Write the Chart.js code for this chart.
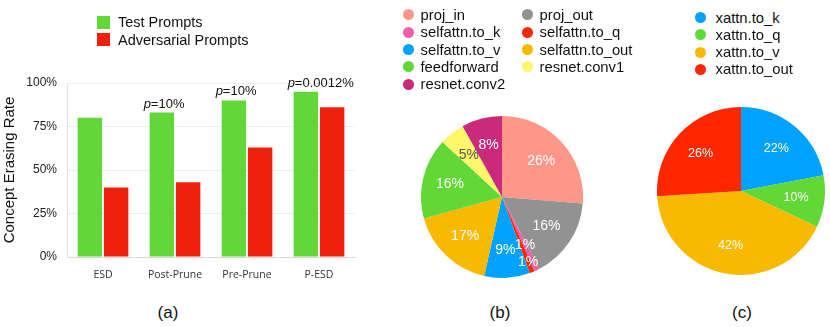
<!DOCTYPE html>
<html>
<head>
<meta charset="utf-8">
<script src="https://cdn.jsdelivr.net/npm/chart.js@4.4.1/dist/chart.umd.min.js"></script>
<style>
  body { margin: 0; background: #fff; font-family: "Liberation Sans", Arial, sans-serif; }
  #page { position: relative; width: 830px; height: 327px; overflow: hidden; }
  canvas { position: absolute; }
  .lg { position: absolute; display: flex; align-items: center; color: #111; white-space: nowrap; }
  .cap { position: absolute; font-size: 17px; color: #111; transform: translate(-50%, -50%); }
</style>
</head>
<body>
<div id="page">
  <canvas id="barChart" width="360" height="300" style="left:0;top:0"></canvas>
  <canvas id="pieB" width="162" height="162" style="left:421px;top:116px"></canvas>
  <canvas id="pieC" width="168" height="168" style="left:657px;top:107px"></canvas>
  <div class="cap" style="left:168px;top:313px">(a)</div>
  <div class="cap" style="left:500px;top:313px">(b)</div>
  <div class="cap" style="left:742px;top:313px">(c)</div>
</div>
<script>
// (a) bar chart data
var methods = ["ESD", "Post-Prune", "Pre-Prune", "P-ESD"];
var testPrompts = [80, 83, 90, 95];
var advPrompts = [40, 43, 63, 86];
var pLabels = ["", "=10%", "=10%", "=0.0012%"];
var yTicks = [0, 25, 50, 75, 100];

// (b) pie
var layersB = ["proj_in", "proj_out", "selfattn.to_k", "selfattn.to_q", "selfattn.to_v",
               "selfattn.to_out", "feedforward", "resnet.conv1", "resnet.conv2"];
var sharesB = [26, 16, 1, 1, 9, 17, 16, 5, 8];

// (c) pie
var layersC = ["xattn.to_k", "xattn.to_q", "xattn.to_v", "xattn.to_out"];
var sharesC = [22, 10, 42, 26];

var colorsB = ['#FF968A', '#929292', '#EF5FA7', '#FF2600', '#00A2FF', '#F8BA00', '#61D836', '#FFF76B', '#CB297B'];
var colorsC = ['#00A2FF', '#61D836', '#F8BA00', '#FF2600'];
var green = '#62D838', red = '#EE220C';

var page = document.getElementById("page");

function addLegend(labels, colors, opts) {
    labels.forEach(function (lab, i) {
        var col = Math.floor(i % opts.cols), row = Math.floor(i / opts.cols);
        var d = document.createElement("div");
        d.className = "lg";
        d.style.left = (opts.x + col * opts.colW) + "px";
        d.style.top = (opts.y + row * opts.rowH - opts.rowH / 2) + "px";
        d.style.height = opts.rowH + "px";
        d.style.fontSize = opts.font + "px";
        var m = document.createElement("span");
        m.style.display = "inline-block";
        m.style.width = opts.mark + "px";
        m.style.height = opts.mark + "px";
        m.style.background = colors[i];
        m.style.borderRadius = opts.round ? "50%" : "0";
        m.style.marginRight = opts.gap + "px";
        d.appendChild(m);
        d.appendChild(document.createTextNode(lab));
        page.appendChild(d);
    });
}

addLegend(["Test Prompts", "Adversarial Prompts"], [green, red],
    {x: 97, y: 22.5, cols: 1, colW: 0, rowH: 17.3, font: 14.5, mark: 13, gap: 8, round: false});
addLegend(layersB, colorsB,
    {x: 402.5, y: 15, cols: 2, colW: 119, rowH: 17.3, font: 14.8, mark: 11, gap: 7, round: true});
addLegend(layersC, colorsC,
    {x: 694.5, y: 17.7, cols: 1, colW: 0, rowH: 17.2, font: 14.8, mark: 11, gap: 10, round: true});

// p-value text above the green bars
var pValuePlugin = {
    id: 'pValues',
    afterDatasetsDraw: function (chart) {
        var ctx = chart.ctx;
        var meta = chart.getDatasetMeta(0);
        ctx.save();
        ctx.fillStyle = '#111';
        ctx.textBaseline = 'alphabetic';
        ctx.textAlign = 'left';
        meta.data.forEach(function (bar, i) {
            if (!pLabels[i]) return;
            var x = bar.x - bar.width / 2 - 6;
            var y = bar.y - 5;
            ctx.font = 'italic 13px "Liberation Sans"';
            ctx.fillText('p', x, y);
            var w = ctx.measureText('p').width;
            ctx.font = '13px "Liberation Sans"';
            ctx.fillText(pLabels[i], x + w, y);
        });
        ctx.restore();
    }
};

new Chart(document.getElementById("barChart"), {
    type: 'bar',
    data: {
        labels: methods,
        datasets: [
            {label: 'Test Prompts', data: testPrompts, backgroundColor: green},
            {label: 'Adversarial Prompts', data: advPrompts, backgroundColor: red}
        ]
    },
    options: {
        responsive: false,
        animation: false,
        categoryPercentage: 0.73,
        barPercentage: 0.93,
        layout: {padding: {top: 83, right: 5, left: 0, bottom: 19}},
        plugins: {legend: {display: false}, tooltip: {enabled: false}},
        scales: {
            x: {
                grid: {display: false},
                border: {color: '#d8d8d8'},
                ticks: {padding: 4, color: '#333', font: {family: '"Open Sans"', size: 10.5}},
                afterFit: function (s) { s.height = 24; }
            },
            y: {
                min: 0, max: 100,
                afterBuildTicks: function (s) { s.ticks = yTicks.map(function (v) { return {value: v}; }); },
                grid: {color: '#eeeeee', drawTicks: false},
                border: {color: '#e2e2e2'},
                ticks: {padding: 10, color: '#222', font: {family: '"Liberation Sans"', size: 12},
                    callback: function (v) { return v + '%'; }},
                title: {display: true, text: 'Concept Erasing Rate', color: '#111', padding: {top: 1, bottom: 0},
                    font: {family: '"Liberation Sans"', size: 15}},
                afterFit: function (s) { s.width = 67; }
            }
        }
    },
    plugins: [pValuePlugin]
});

// percent labels inside pie slices; neighbouring tiny slices get pushed outward
function sliceLabels(size) {
    return {
        id: 'sliceLabels',
        afterDatasetsDraw: function (chart) {
            var ctx = chart.ctx;
            var ds = chart.data.datasets[0];
            var total = ds.data.reduce(function (a, b) { return a + b; }, 0);
            var stack = 0;
            ctx.save();
            ctx.font = size + 'px "Liberation Sans"';
            ctx.textAlign = 'center';
            ctx.textBaseline = 'middle';
            chart.getDatasetMeta(0).data.forEach(function (arc, i) {
                var mid = (arc.startAngle + arc.endAngle) / 2;
                var small = ds.data[i] / total < 0.03;
                stack = small ? stack + 1 : 0;
                var r = arc.outerRadius * (stack > 1 ? 0.87 : 0.66);
                var c = ds.backgroundColor[i];
                var rr = parseInt(c.substr(1, 2), 16), gg = parseInt(c.substr(3, 2), 16), bb = parseInt(c.substr(5, 2), 16);
                var lum = 0.299 * rr + 0.587 * gg + 0.114 * bb;
                ctx.fillStyle = lum > 200 ? '#555' : '#fff';
                ctx.fillText(ds.data[i] + '%', arc.x + Math.cos(mid) * r, arc.y + Math.sin(mid) * r);
            });
            ctx.restore();
        }
    };
}

function makePie(id, labels, values, colors, fontSize) {
    return new Chart(document.getElementById(id), {
        type: 'pie',
        data: {
            labels: labels,
            datasets: [{data: values, backgroundColor: colors, borderWidth: 0, hoverOffset: 0, offset: 0}]
        },
        options: {
            responsive: false,
            animation: false,
            layout: {padding: 0},
            plugins: {legend: {display: false}, tooltip: {enabled: false}}
        },
        plugins: [sliceLabels(fontSize)]
    });
}

makePie("pieB", layersB, sharesB, colorsB, 14);
makePie("pieC", layersC, sharesC, colorsC, 12.5);
</script>
</body>
</html>
